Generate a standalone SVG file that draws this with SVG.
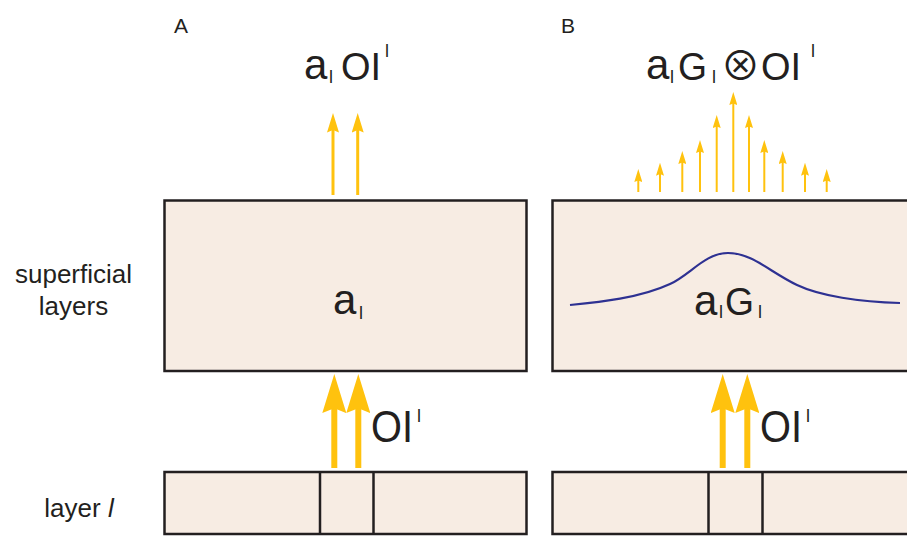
<svg xmlns="http://www.w3.org/2000/svg" width="907" height="536" viewBox="0 0 907 536">
<style>
.box{fill:#f7ece3;stroke:#231f20;stroke-width:2.5}
.div{stroke:#231f20;stroke-width:2.5}
.t{font-family:"Liberation Sans",Arial,sans-serif;fill:#231f20}
.sub{font-family:"Liberation Sans",Arial,sans-serif;fill:#231f20;font-size:18px}
.arr{stroke:#ffc20e;fill:none;marker-end:url(#head)}
.curve{fill:none;stroke:#2e3192;stroke-width:2.2}
</style>
<defs>
<marker id="head" markerUnits="strokeWidth" markerWidth="6.5" markerHeight="4" viewBox="0 0 6.5 4" refX="1.5" refY="2" orient="auto">
<path d="M0,0 L6.5,2 L0,4 L0.8,2 Z" fill="#ffc20e"/>
</marker>
</defs>
<rect width="907" height="536" fill="#ffffff"/>

<g id="panel-labels">
<text class="t" x="174" y="33" font-size="21">A</text>
<text class="t" x="561" y="33" font-size="21">B</text>
</g>

<g id="row-labels">
<text class="t" x="73.5" y="283" font-size="26" text-anchor="middle">superficial</text>
<text class="t" x="73.5" y="315" font-size="26" text-anchor="middle">layers</text>
<text class="t" x="79" y="517" font-size="26" text-anchor="middle">layer <tspan font-style="italic">l</tspan></text>
</g>

<g id="A-superficial">
<rect class="box" x="164.5" y="200.5" width="362" height="170.5"/>
<text class="t" x="333" y="314" font-size="42">a</text>
<text class="sub" x="359" y="319">l</text>
</g>

<g id="A-layer">
<rect class="box" x="164.5" y="472" width="362" height="62"/>
<line class="div" x1="320" y1="472" x2="320" y2="534"/>
<line class="div" x1="373.5" y1="472" x2="373.5" y2="534"/>
</g>

<g id="B-superficial">
<rect class="box" x="552.5" y="200.5" width="400" height="170.5"/>
<path class="curve" d="M570,305 C600,302 640,298 670,284 C690,275 705,253 728,253 C752,253 770,272 797,285 C820,296 860,302 900,303"/>
<text class="t" x="694" y="315" font-size="42">a</text>
<text class="sub" x="719" y="318">l</text>
<text class="t" x="725" y="315" font-size="38" textLength="29" lengthAdjust="spacingAndGlyphs">G</text>
<text class="sub" x="758" y="318">l</text>
</g>

<g id="B-layer">
<rect class="box" x="552.5" y="472" width="400" height="62"/>
<line class="div" x1="708.5" y1="472" x2="708.5" y2="534"/>
<line class="div" x1="762.5" y1="472" x2="762.5" y2="534"/>
</g>

<g id="A-output-label">
<text class="t" x="304" y="79" font-size="42">a</text>
<text class="sub" x="329" y="83">l</text>
<text class="t" x="341" y="80" font-size="38">OI</text>
<text class="sub" x="385" y="57">l</text>
</g>

<g id="B-output-label">
<text class="t" x="646" y="79" font-size="42">a</text>
<text class="sub" x="670" y="83">l</text>
<text class="t" x="678" y="80" font-size="38" textLength="29" lengthAdjust="spacingAndGlyphs">G</text>
<text class="sub" x="712" y="83">l</text>
<text x="740.5" y="80" font-size="40" text-anchor="middle" font-family="'Noto Sans CJK JP','DejaVu Sans',sans-serif" fill="#231f20">⊗</text>
<text class="t" x="761" y="80" font-size="38">OI</text>
<text class="sub" x="811" y="57">l</text>
</g>

<g id="A-input-label">
<text class="t" x="371" y="442" font-size="44" textLength="42" lengthAdjust="spacingAndGlyphs">OI</text>
<text class="sub" x="417" y="422">l</text>
</g>

<g id="B-input-label">
<text class="t" x="760" y="442" font-size="44" textLength="42" lengthAdjust="spacingAndGlyphs">OI</text>
<text class="sub" x="806" y="422">l</text>
</g>

<g id="connectors">
<line class="arr" stroke-width="3" x1="333" y1="195" x2="333" y2="128"/>
<line class="arr" stroke-width="3" x1="357.7" y1="195" x2="357.7" y2="128"/>
<line class="arr" stroke-width="6" x1="334.3" y1="468" x2="334.3" y2="404"/>
<line class="arr" stroke-width="6" x1="358.3" y1="468" x2="358.3" y2="404"/>
<line class="arr" stroke-width="6" x1="722.7" y1="468" x2="722.7" y2="404"/>
<line class="arr" stroke-width="6" x1="747.3" y1="468" x2="747.3" y2="404"/>
<line class="arr" stroke-width="2" x1="638.3" y1="192" x2="638.3" y2="179"/>
<line class="arr" stroke-width="2" x1="660" y1="192" x2="660" y2="172.7"/>
<line class="arr" stroke-width="2" x1="682.3" y1="192" x2="682.3" y2="161"/>
<line class="arr" stroke-width="2" x1="700" y1="192" x2="700" y2="150"/>
<line class="arr" stroke-width="2" x1="716.7" y1="192" x2="716.7" y2="125"/>
<line class="arr" stroke-width="2" x1="733.3" y1="192" x2="733.3" y2="102"/>
<line class="arr" stroke-width="2" x1="749" y1="192" x2="749" y2="125"/>
<line class="arr" stroke-width="2" x1="764.3" y1="192" x2="764.3" y2="150"/>
<line class="arr" stroke-width="2" x1="782.7" y1="192" x2="782.7" y2="161"/>
<line class="arr" stroke-width="2" x1="805" y1="192" x2="805" y2="172.7"/>
<line class="arr" stroke-width="2" x1="826.7" y1="192" x2="826.7" y2="179"/>
</g>
</svg>
